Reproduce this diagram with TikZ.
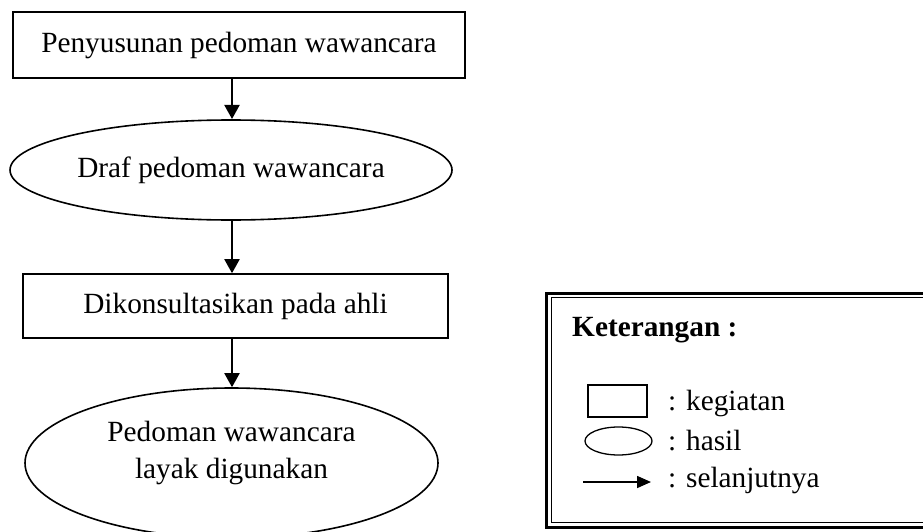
\documentclass[tikz,border=0pt]{standalone}
\usepackage{fontspec}
\setmainfont{Liberation Serif}
\usetikzlibrary{arrows.meta,shapes.geometric}
\tikzset{
  every node/.style={font=\fontsize{29.3}{37}\selectfont},
  procbox/.style={draw, line width=1.6pt, rectangle, inner sep=0pt},
  resell/.style={draw, line width=1.6pt, ellipse, inner sep=0pt},
  flow/.style={line width=2pt, -{Triangle[width=15pt,length=14pt]}},
  lbl/.style={anchor=west, inner sep=0pt}
}
\begin{document}
\begin{tikzpicture}[x=1pt,y=-1pt]
\useasboundingbox (0,0) rectangle (923,532);
\clip (0,0) rectangle (923,532);
% flow
\node[procbox, minimum width=452pt, minimum height=66pt] (b1) at (239,45) {Penyusunan pedoman wawancara};
\node[resell, minimum width=442pt, minimum height=100pt] (e1) at (231,170) {Draf pedoman wawancara};
\node[procbox, minimum width=425pt, minimum height=64pt] (b2) at (235.5,306) {Dikonsultasikan pada ahli};
\node[resell, minimum width=413pt, minimum height=150pt] (e2) at (231.5,463) {};
\node[align=center, inner sep=0pt] (e2t) at (231.5,453) {Pedoman wawancara\\layak digunakan};
\draw[flow] (b1.south -| 232,0) -- (232,119);
\draw[flow] (e1.south -| 232,0) -- (b2.north -| 232,0);
\draw[flow] (b2.south -| 232,0) -- (e2.north -| 232,0);
% legend
\draw[line width=3pt] (546,293) rectangle (950,527);
\draw[line width=1pt] (551,297.5) rectangle (950,522);
\node[lbl, font=\fontsize{29.3}{37}\selectfont\bfseries] (lt) at (572,330) {Keterangan :};
\node[draw, line width=1.3pt, minimum width=59pt, minimum height=32pt, inner sep=0pt] (lr) at (617.5,401) {};
\node[draw, ellipse, line width=1.3pt, minimum width=67pt, minimum height=28pt, inner sep=0pt] (le) at (618.5,441) {};
\coordinate (la1) at (583,482);
\coordinate (la2) at (651,482);
\draw[line width=1.6pt, -{Triangle[width=12pt,length=14pt]}] (la1) -- (la2);
\node[lbl] (t1) at (668,403) {: kegiatan};
\node[lbl] (t2) at (668,441) {: hasil};
\node[lbl] (t3) at (668,480) {: selanjutnya};
\end{tikzpicture}
\end{document}
